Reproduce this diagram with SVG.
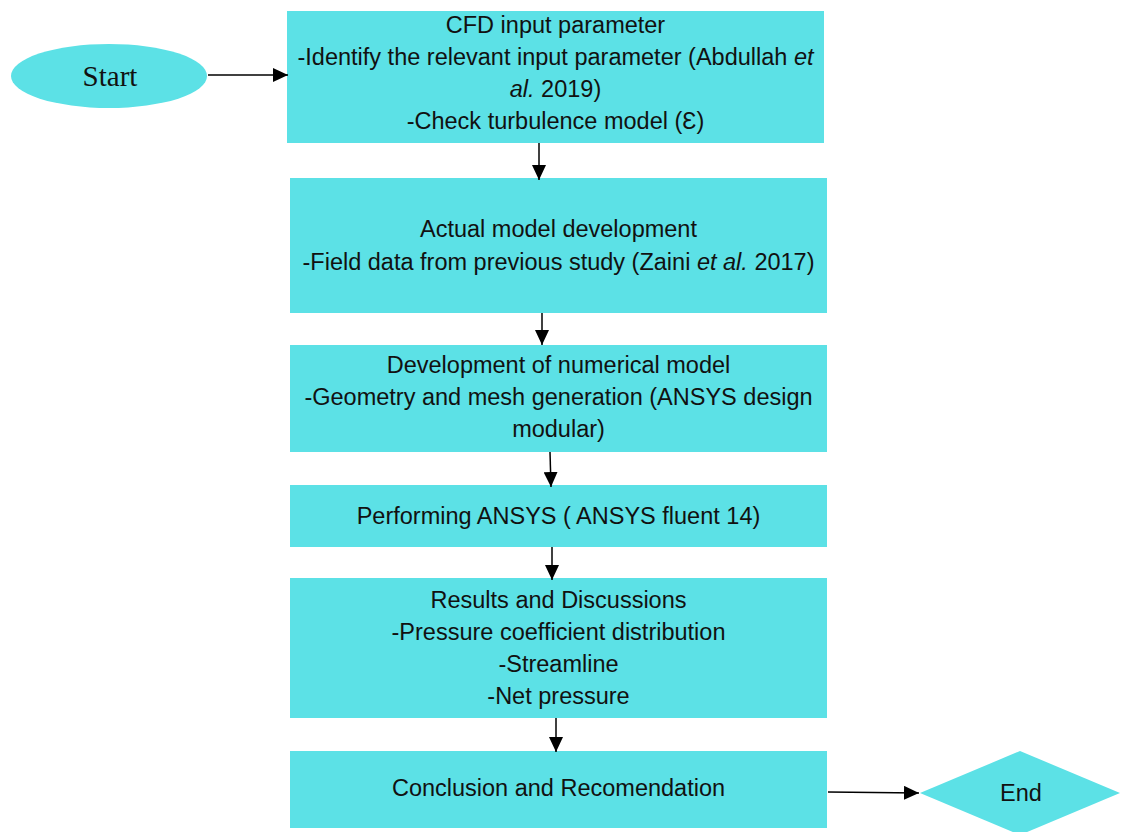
<svg xmlns="http://www.w3.org/2000/svg" width="1128" height="832" viewBox="0 0 1128 832">
<style>
.n{fill:#5ce1e6;}
.t{font-family:"Liberation Sans",Arial,sans-serif;font-size:23.5px;fill:#111;text-anchor:middle;}
.s{font-family:"Liberation Serif","Times New Roman",serif;font-size:29px;fill:#111;text-anchor:middle;}
.i{font-style:italic;}
.c{stroke:#000;stroke-width:1.5;fill:none;marker-end:url(#ah);}
</style>
<defs>
<marker id="ah" markerWidth="15" markerHeight="14" refX="15" refY="7" orient="auto" markerUnits="userSpaceOnUse">
<path d="M0,0 L15,7 L0,14 Z" fill="#000"/>
</marker>
</defs>
<rect width="1128" height="832" fill="#fff"/>
<g id="start">
<ellipse class="n" cx="109" cy="76" rx="98" ry="32"/>
<text class="s" x="110" y="86">Start</text>
</g>
<g id="cfd">
<rect class="n" x="287" y="11" width="537" height="132"/>
<text class="t" x="555.5" y="33">CFD input parameter</text>
<text class="t" x="555.5" y="65">-Identify the relevant input parameter (Abdullah <tspan class="i">et</tspan></text>
<text class="t" x="555.5" y="97"><tspan class="i">al.</tspan> 2019)</text>
<text class="t" x="555.5" y="129">-Check turbulence model (Ɛ)</text>
</g>
<g id="actual">
<rect class="n" x="290" y="178" width="537" height="135"/>
<text class="t" x="558.5" y="237">Actual model development</text>
<text class="t" x="558.5" y="270">-Field data from previous study (Zaini <tspan class="i">et al.</tspan> 2017)</text>
</g>
<g id="numerical">
<rect class="n" x="290" y="345" width="537" height="107"/>
<text class="t" x="558.5" y="373">Development of numerical model</text>
<text class="t" x="558.5" y="405">-Geometry and mesh generation (ANSYS design</text>
<text class="t" x="558.5" y="437">modular)</text>
</g>
<g id="performing">
<rect class="n" x="290" y="485" width="537" height="62"/>
<text class="t" x="558.5" y="524">Performing ANSYS ( ANSYS fluent 14)</text>
</g>
<g id="results">
<rect class="n" x="290" y="578" width="537" height="140"/>
<text class="t" x="558.5" y="608">Results and Discussions</text>
<text class="t" x="558.5" y="640">-Pressure coefficient distribution</text>
<text class="t" x="558.5" y="672">-Streamline</text>
<text class="t" x="558.5" y="704">-Net pressure</text>
</g>
<g id="conclusion">
<rect class="n" x="290" y="751" width="537" height="77"/>
<text class="t" x="558.5" y="796">Conclusion and Recomendation</text>
</g>
<g id="end">
<polygon class="n" points="920,793 1020,751 1120,793 1020,835"/>
<text class="t" x="1021" y="801">End</text>
</g>
<g id="connectors">
<line class="c" x1="208" y1="75" x2="288" y2="75"/>
<line class="c" x1="539" y1="143" x2="539" y2="180"/>
<line class="c" x1="542" y1="313" x2="542" y2="345"/>
<line class="c" x1="550" y1="452" x2="551" y2="487"/>
<line class="c" x1="552" y1="547" x2="552" y2="580"/>
<line class="c" x1="556" y1="718" x2="556" y2="752"/>
<line class="c" x1="828" y1="792" x2="919" y2="793"/>
</g>
</svg>
